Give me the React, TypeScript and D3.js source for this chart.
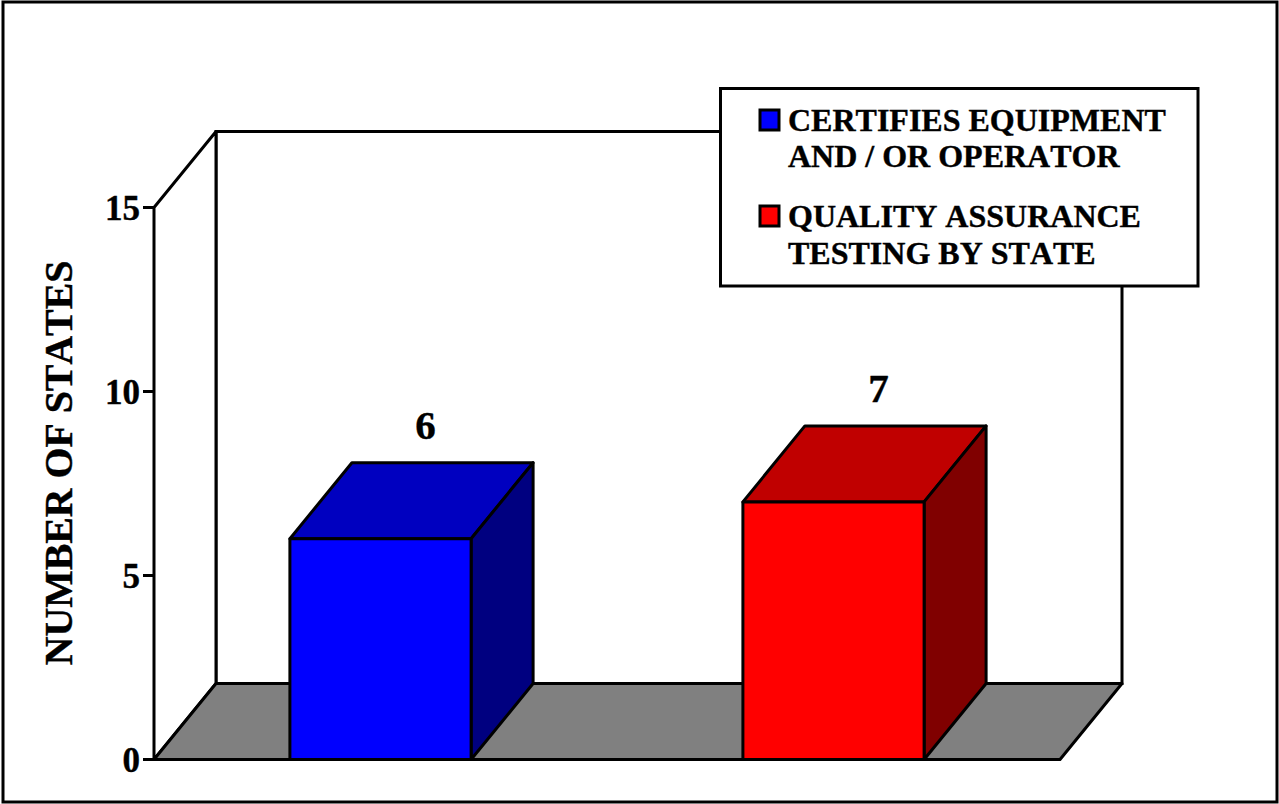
import React from "react";
import * as d3 from "d3";

const categories = ["CERTIFIES EQUIPMENT", "QUALITY ASSURANCE"];
const values = [6, 7];
const frontColors = ["#0000ff", "#ff0000"];
const topColors = ["#0000c0", "#c00000"];
const sideColors = ["#000080", "#800000"];
const yTicks = [0, 5, 10, 15];
const legendLines = [
  ["CERTIFIES EQUIPMENT", "AND / OR OPERATOR"],
  ["QUALITY ASSURANCE", "TESTING BY STATE"],
];
const axisTitle = "NUMBER OF STATES";

const W = 1279, H = 804;
const DX = 62, DY = -76;
const y = d3.scaleLinear().domain([0, 15]).range([759.5, 207.5]);
const x = d3.scaleBand<string>().domain(categories).range([154, 1060]).paddingInner(0.6).paddingOuter(0.3);
const line = d3.line();
const closed = (pts: [number, number][]) => line(pts) + "Z";
const font = "'Liberation Serif', 'Times New Roman', serif";
const SW = 3;
const legendY = [[131, 167], [227, 264]];
const swatchY = [110, 206];

export default function App() {
  const x0 = x.range()[0], x1 = x.range()[1];
  const y0 = y(0), yTop = y(15);
  return (
    <svg width={W} height={H} viewBox={`0 0 ${W} ${H}`}
      style={{ position: "absolute", left: 0, top: 0, background: "#fff", fontKerning: "none" }} fontFamily={font} fontWeight="bold" fill="#000">
      <rect x={3} y={2} width={1274} height={800} fill="#fff" stroke="#000" strokeWidth={SW} />
      {/* back wall */}
      <path d={closed([[x0 + DX, yTop + DY], [x1 + DX, yTop + DY], [x1 + DX, y0 + DY], [x0 + DX, y0 + DY]])} fill="#fff" stroke="#000" strokeWidth={SW} />
      {/* left wall */}
      <path d={closed([[x0, yTop], [x0 + DX, yTop + DY], [x0 + DX, y0 + DY], [x0, y0]])} fill="#fff" stroke="#000" strokeWidth={SW} strokeLinejoin="round" />
      {/* floor */}
      <path d={closed([[x0, y0], [x0 + DX, y0 + DY], [x1 + DX, y0 + DY], [x1, y0]])} fill="#808080" stroke="#000" strokeWidth={SW} strokeLinejoin="round" />
      {/* ticks */}
      {yTicks.map(t => (
        <g key={t}>
          <line x1={x0 - 11} x2={x0} y1={y(t)} y2={y(t)} stroke="#000" strokeWidth={SW} />
          <text x={x0 - 14} y={y(t) + 12} textAnchor="end" fontSize={35} stroke="#000" strokeWidth={0.4}>{t}</text>
        </g>
      ))}
      {/* bars */}
      {categories.map((c, i) => {
        const l = x(c)!, r = l + x.bandwidth(), t = y(values[i]);
        return (
          <g key={c} stroke="#000" strokeWidth={SW} strokeLinejoin="round">
            <path d={closed([[l, t], [l + DX, t + DY], [r + DX, t + DY], [r, t]])} fill={topColors[i]} />
            <path d={closed([[r, t], [r + DX, t + DY], [r + DX, y0 + DY], [r, y0]])} fill={sideColors[i]} />
            <path d={closed([[l, t], [r, t], [r, y0], [l, y0]])} fill={frontColors[i]} />
            <text x={(l + r) / 2 + 45} y={t + DY - 24} textAnchor="middle" fontSize={41} stroke="#000" strokeWidth={0.4} fill="#000">{values[i]}</text>
          </g>
        );
      })}
      {/* axis title */}
      <text transform="translate(72,463) rotate(-90)" textAnchor="middle" fontSize={39.8} stroke="#000" strokeWidth={0.4}>{axisTitle}</text>
      {/* legend */}
      <rect x={720.5} y={88.5} width={477.5} height={197.5} fill="#fff" stroke="#000" strokeWidth={SW} />
      {legendLines.map((ls, i) => (
        <g key={i}>
          <rect x={760} y={swatchY[i]} width={19} height={20} fill={frontColors[i]} stroke="#000" strokeWidth={SW} />
          {ls.map((s, j) => (
            <text key={j} x={788} y={legendY[i][j]} fontSize={32} stroke="#000" strokeWidth={0.4}>{s}</text>
          ))}
        </g>
      ))}
    </svg>
  );
}
